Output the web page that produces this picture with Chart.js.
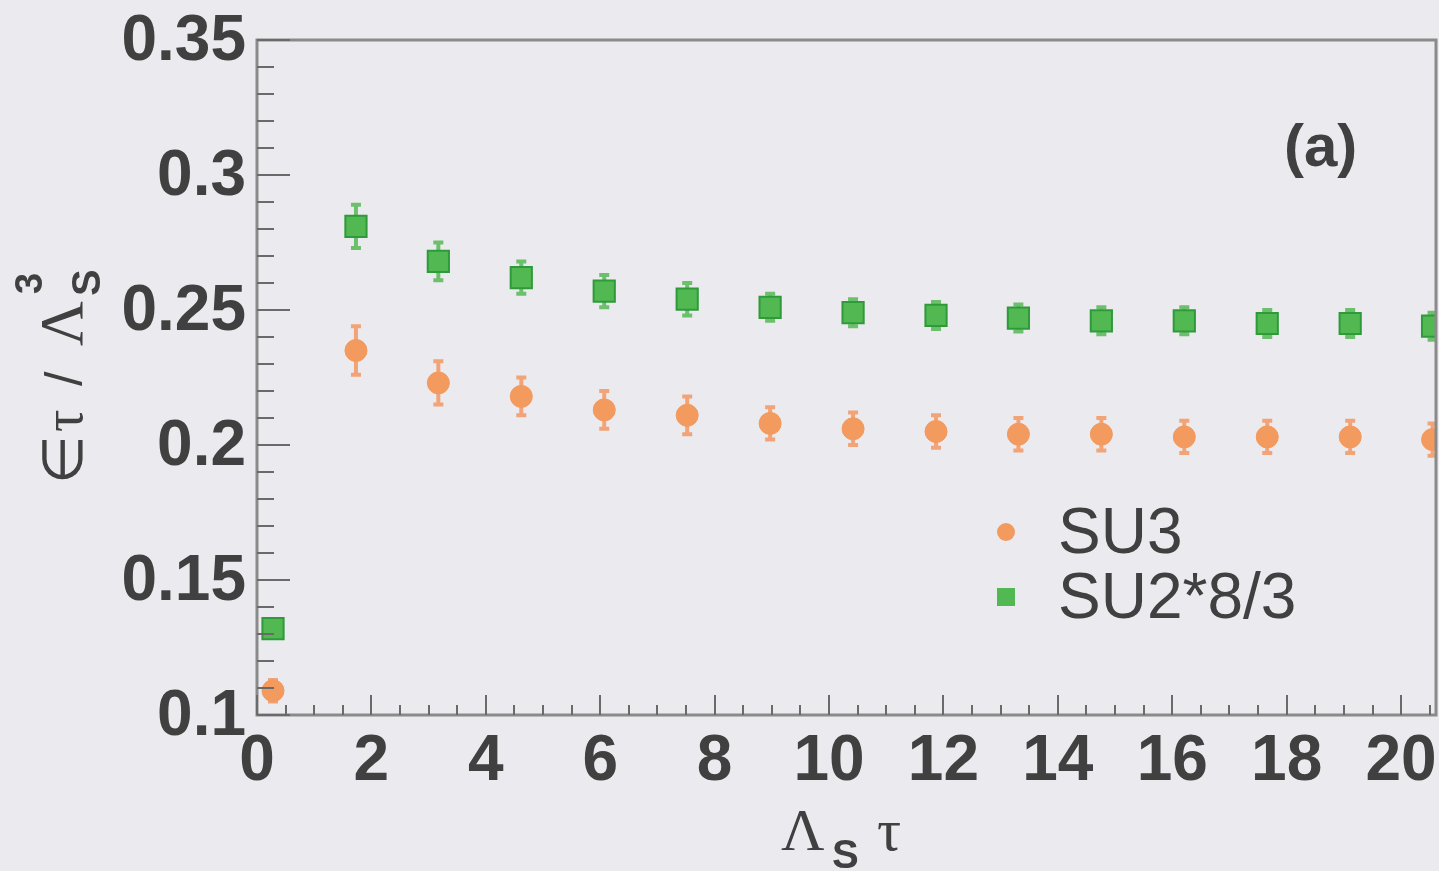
<!DOCTYPE html>
<html>
<head>
<meta charset="utf-8">
<script src="https://cdn.jsdelivr.net/npm/chart.js@4"></script>
<style>
  body { margin: 0; background: #ebeaee; }
  canvas { display: block; }
</style>
</head>
<body>
<canvas id="epsChart" width="1439" height="871"></canvas>
<script>
// values
const tauValues = [0.28, 1.73, 3.17, 4.62, 6.07, 7.52, 8.97, 10.42, 11.87, 13.31, 14.76, 16.21, 17.66, 19.11, 20.55];
const su3Values = [0.109, 0.235, 0.223, 0.218, 0.213, 0.211, 0.208, 0.206, 0.205, 0.204, 0.204, 0.203, 0.203, 0.203, 0.202];
const su3Errors = [0.004, 0.009, 0.008, 0.007, 0.007, 0.007, 0.006, 0.006, 0.006, 0.006, 0.006, 0.006, 0.006, 0.006, 0.006];
const su2Values = [0.132, 0.281, 0.268, 0.262, 0.257, 0.254, 0.251, 0.249, 0.248, 0.247, 0.246, 0.246, 0.245, 0.245, 0.244];
const su2Errors = [0.003, 0.008, 0.007, 0.006, 0.006, 0.006, 0.005, 0.005, 0.005, 0.005, 0.005, 0.005, 0.005, 0.005, 0.005];
const seriesNames = ["SU3", "SU2*8/3"];
const yTickValues = [0.1, 0.15, 0.2, 0.25, 0.3, 0.35];
const xTickValues = [0, 2, 4, 6, 8, 10, 12, 14, 16, 18, 20];

const orange = "#f39a5e";
const green = "#52b852";
const textColor = "#404040";
const sans = "'Liberation Sans', Arial, sans-serif";
const serif = "'Liberation Serif', 'DejaVu Serif', serif";

function toPoints(xs, ys) {
    return xs.map((x, i) => ({ x: x, y: ys[i] }));
}

const bgPlugin = {
    id: 'bg',
    beforeDraw(chart) {
        const ctx = chart.ctx;
        ctx.save();
        ctx.fillStyle = "#ebeaee";
        ctx.fillRect(0, 0, chart.width, chart.height);
        ctx.restore();
    }
};

// vertical error bars, drawn through the scales
const errorBarPlugin = {
    id: 'errorBars',
    beforeDatasetsDraw(chart) {
        const ctx = chart.ctx;
        const xs = chart.scales.x, ys = chart.scales.y;
        const a = chart.chartArea;
        const sets = [[su3Values, su3Errors, "#f2a478"], [su2Values, su2Errors, "#6cc06c"]];
        ctx.save();
        ctx.beginPath();
        ctx.rect(a.left, a.top, a.right - a.left, a.bottom - a.top);
        ctx.clip();
        sets.forEach(s => {
            ctx.strokeStyle = s[2];
            ctx.lineWidth = 4;
            tauValues.forEach((t, i) => {
                const px = xs.getPixelForValue(t);
                const y1 = ys.getPixelForValue(s[0][i] + s[1][i]);
                const y2 = ys.getPixelForValue(s[0][i] - s[1][i]);
                ctx.beginPath();
                ctx.moveTo(px, y1); ctx.lineTo(px, y2);
                ctx.moveTo(px - 5, y1); ctx.lineTo(px + 5, y1);
                ctx.moveTo(px - 5, y2); ctx.lineTo(px + 5, y2);
                ctx.stroke();
            });
        });
        ctx.restore();
    }
};

// frame, inward ticks, tick labels, axis titles, legend, panel label
const decorPlugin = {
    id: 'decor',
    afterDraw(chart) {
        const ctx = chart.ctx;
        const a = chart.chartArea;
        const xs = chart.scales.x, ys = chart.scales.y;
        ctx.save();

        ctx.strokeStyle = "#8a8a8a";
        ctx.lineWidth = 3;
        ctx.strokeRect(a.left, a.top, a.right - a.left, a.bottom - a.top);

        ctx.strokeStyle = "#6a6a6a";
        ctx.lineWidth = 2;
        ctx.beginPath();
        for (let v = 0.1; v <= 0.3501; v += 0.01) {
            const py = Math.round(ys.getPixelForValue(v));
            const major = Math.abs(Math.round(v * 100) % 5) === 0;
            ctx.moveTo(a.left, py);
            ctx.lineTo(a.left + (major ? 33 : 17), py);
        }
        for (let v = 0; v <= xs.max; v += 0.5) {
            const px = Math.round(xs.getPixelForValue(v));
            const major = Math.abs(v % 2) < 1e-6;
            ctx.moveTo(px, a.bottom);
            ctx.lineTo(px, a.bottom - (major ? 20 : 10));
        }
        ctx.stroke();

        ctx.fillStyle = textColor;

        // tick labels
        ctx.font = "bold 64px " + sans;
        ctx.textAlign = "right";
        ctx.textBaseline = "middle";
        yTickValues.forEach(v => {
            ctx.fillText(String(v), a.left - 11, ys.getPixelForValue(v) + 2);
        });
        ctx.textAlign = "center";
        ctx.textBaseline = "alphabetic";
        xTickValues.forEach(v => {
            ctx.fillText(String(v), xs.getPixelForValue(v), 780);
        });

        ctx.textAlign = "left";

        // panel label
        ctx.font = "bold 60px " + sans;
        ctx.fillText("(a)", 1284, 166);

        // legend
        ctx.fillStyle = orange;
        ctx.beginPath();
        ctx.arc(1006, 532, 9, 0, Math.PI * 2);
        ctx.fill();
        ctx.fillStyle = green;
        ctx.fillRect(997, 588, 18, 18);
        ctx.fillStyle = textColor;
        ctx.font = "64px " + sans;
        ctx.fillText(seriesNames[0], 1058, 553);
        ctx.fillText(seriesNames[1], 1058, 618);

        // x title: Lambda_S tau
        ctx.font = "60px " + serif;
        ctx.fillText("\u039B", 781, 850);
        ctx.font = "bold 40px " + sans;
        ctx.fillText("S", 832, 868);
        ctx.font = "60px " + serif;
        ctx.fillText("\u03C4", 877, 850);

        // y title: eps tau / Lambda_S^3
        ctx.translate(82, 484);
        ctx.rotate(-Math.PI / 2);
        ctx.font = "56px " + sans;
        ctx.fillText("\u2208", 0, 0);
        ctx.font = "56px " + serif;
        ctx.fillText("\u03C4", 52, 0);
        ctx.font = "52px " + sans;
        ctx.fillText("/", 98, 0);
        ctx.font = "62px " + serif;
        ctx.fillText("\u039B", 138, 0);
        ctx.font = "bold 40px " + sans;
        ctx.fillText("S", 188, 18);
        ctx.font = "bold 38px " + sans;
        ctx.fillText("3", 190, -40);

        ctx.restore();
    }
};

const config = {
    type: 'scatter',
    data: {
        datasets: [{
            label: seriesNames[0],
            data: toPoints(tauValues, su3Values),
            pointStyle: 'circle',
            pointRadius: 11,
            backgroundColor: orange,
            borderColor: orange,
            borderWidth: 1
        }, {
            label: seriesNames[1],
            data: toPoints(tauValues, su2Values),
            pointStyle: 'rect',
            pointRadius: 15,
            backgroundColor: green,
            borderColor: "#2f9a3a",
            borderWidth: 2
        }]
    },
    options: {
        responsive: false,
        devicePixelRatio: 1,
        animation: false,
        layout: { autoPadding: false, padding: { top: 40, right: 3, left: 0, bottom: 0 } },
        plugins: {
            legend: { display: false },
            tooltip: { enabled: false }
        },
        scales: {
            x: {
                type: 'linear',
                min: 0,
                max: 20.61,
                grid: { display: false, drawTicks: false },
                border: { display: false },
                afterFit: function (scale) { scale.height = 156; },
                ticks: { display: false }
            },
            y: {
                min: 0.1,
                max: 0.35,
                grid: { display: false, drawTicks: false },
                border: { display: false },
                afterFit: function (scale) { scale.width = 257; },
                ticks: { display: false }
            }
        }
    },
    plugins: [bgPlugin, errorBarPlugin, decorPlugin]
};

const epsChart = new Chart(document.getElementById('epsChart'), config);
</script>
</body>
</html>
